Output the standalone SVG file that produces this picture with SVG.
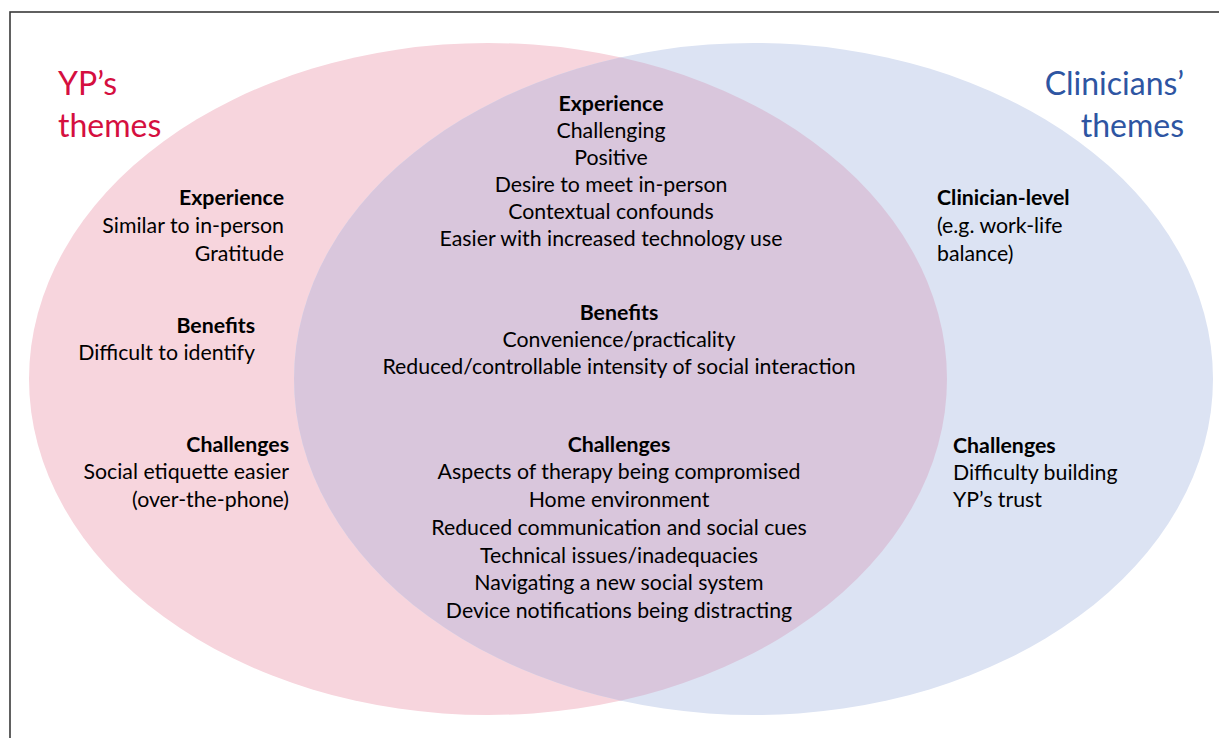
<svg xmlns="http://www.w3.org/2000/svg" width="1219" height="738" viewBox="0 0 1219 738">
  <style>
    text { font-family: Lato, "Open Sans", "Liberation Sans", sans-serif; font-size: 21.3px; fill: #000; }
    .h { font-weight: bold; }
    .mid { text-anchor: middle; }
    .end { text-anchor: end; }
    .title { font-size: 32px; }
    .yp { fill: #d50f3f; }
    .cl { fill: #2e55a2; }
  </style>
  <defs>
    <clipPath id="clip-clinicians">
      <ellipse cx="753.5" cy="379" rx="459.5" ry="336"/>
    </clipPath>
  </defs>
  <rect width="1219" height="738" fill="#ffffff"/>
  <!-- frame -->
  <rect x="10" y="12" width="1230" height="760" fill="none" stroke="#3a3a3a" stroke-width="1.6"/>

  <!-- sets -->
  <g id="set-yp">
    <ellipse cx="488" cy="379" rx="459" ry="336" fill="#f7d5dd"/>
  </g>
  <g id="set-clinicians">
    <ellipse cx="753.5" cy="379" rx="459.5" ry="336" fill="#dce3f3"/>
  </g>
  <g id="set-overlap">
    <ellipse cx="488" cy="379" rx="459" ry="336" fill="#d9c6dc" clip-path="url(#clip-clinicians)"/>
  </g>
  <g id="connectors"/>

  <!-- titles -->
  <g id="title-yp">
    <text class="title yp" x="58" y="95">YP’s</text>
    <text class="title yp" x="58" y="137">themes</text>
  </g>
  <g id="title-clinicians">
    <text class="title cl end" x="1184" y="95">Clinicians’</text>
    <text class="title cl end" x="1184" y="137">themes</text>
  </g>

  <!-- YP-only themes -->
  <g id="yp-experience">
    <text class="h end" x="284" y="205">Experience</text>
    <text class="end" x="284" y="233">Similar to in-person</text>
    <text class="end" x="284" y="261">Gratitude</text>
  </g>
  <g id="yp-benefits">
    <text class="h end" x="255" y="333">Benefits</text>
    <text class="end" x="255" y="360">Difficult to identify</text>
  </g>
  <g id="yp-challenges">
    <text class="h end" x="289" y="452">Challenges</text>
    <text class="end" x="289" y="479">Social etiquette easier</text>
    <text class="end" x="289" y="507">(over-the-phone)</text>
  </g>

  <!-- shared themes -->
  <g id="shared-experience">
    <text class="h mid" x="611" y="111">Experience</text>
    <text class="mid" x="611" y="138">Challenging</text>
    <text class="mid" x="611" y="165">Positive</text>
    <text class="mid" x="611" y="192">Desire to meet in-person</text>
    <text class="mid" x="611" y="219">Contextual confounds</text>
    <text class="mid" x="611" y="246">Easier with increased technology use</text>
  </g>
  <g id="shared-benefits">
    <text class="h mid" x="619" y="320">Benefits</text>
    <text class="mid" x="619" y="347">Convenience/practicality</text>
    <text class="mid" x="619" y="374">Reduced/controllable intensity of social interaction</text>
  </g>
  <g id="shared-challenges">
    <text class="h mid" x="619" y="452">Challenges</text>
    <text class="mid" x="619" y="479">Aspects of therapy being compromised</text>
    <text class="mid" x="619" y="507">Home environment</text>
    <text class="mid" x="619" y="535">Reduced communication and social cues</text>
    <text class="mid" x="619" y="563">Technical issues/inadequacies</text>
    <text class="mid" x="619" y="590">Navigating a new social system</text>
    <text class="mid" x="619" y="618">Device notifications being distracting</text>
  </g>

  <!-- clinician-only themes -->
  <g id="clinician-level">
    <text class="h" x="937" y="205">Clinician-level</text>
    <text x="937" y="233">(e.g. work-life</text>
    <text x="937" y="261">balance)</text>
  </g>
  <g id="clinician-challenges">
    <text class="h" x="953" y="453">Challenges</text>
    <text x="953" y="480">Difficulty building</text>
    <text x="953" y="507">YP’s trust</text>
  </g>
</svg>
